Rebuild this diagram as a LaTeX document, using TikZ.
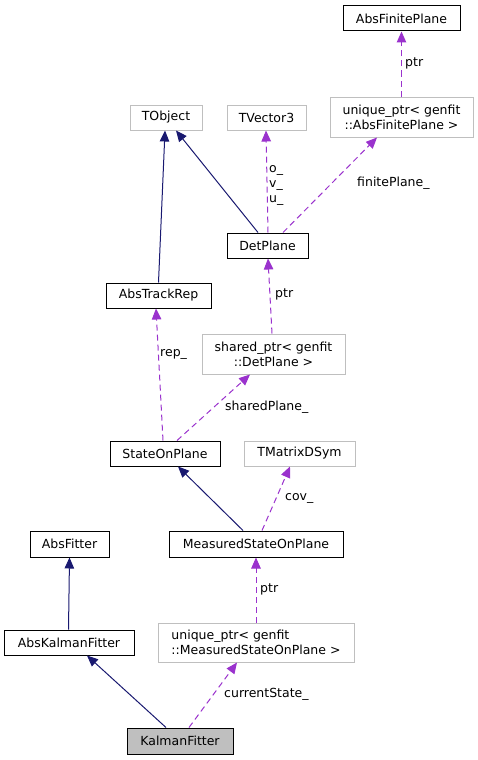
\documentclass[tikz,border=0pt]{standalone}
\usepackage{fontspec}
\setmainfont{DejaVu Sans}
\usetikzlibrary{arrows.meta,calc}
\definecolor{navyedge}{HTML}{191970}
\definecolor{depedge}{HTML}{9A32CD}
\definecolor{extgray}{HTML}{BFBFBF}
\begin{document}
\begin{tikzpicture}[x=1pt,y=-1pt,
  every node/.style={font=\fontsize{12.5}{15}\selectfont, inner sep=0pt},
  cls/.style={draw=black, line width=1pt, fill=white, align=center},
  ext/.style={draw=extgray, line width=1pt, fill=white, align=center},
  inh/.style={draw=navyedge, line width=1pt, -{Triangle[length=11pt,width=9.5pt]}},
  dep/.style={draw=depedge, line width=1pt, dash pattern=on 6pt off 4pt, -{Triangle[length=11pt,width=9.5pt]}},
  lbl/.style={anchor=west, align=left}]
\useasboundingbox (0,0) rectangle (477,760);
% nodes
\node[cls, minimum width=117pt, minimum height=25pt] (afp) at (401.5,18.5) {AbsFinitePlane};
\node[ext, minimum width=143pt, minimum height=40pt] (uafp) at (401.5,117) {unique\_ptr< genfit\\::AbsFinitePlane >};
\node[ext, minimum width=72pt, minimum height=25pt] (tobj) at (166,117.5) {TObject};
\node[ext, minimum width=79pt, minimum height=25pt] (tv) at (266.5,117.5) {TVector3};
\node[cls, minimum width=81pt, minimum height=25pt] (dp) at (267.5,245.5) {DetPlane};
\node[cls, minimum width=105pt, minimum height=25pt] (atr) at (158.5,295.5) {AbsTrackRep};
\node[ext, minimum width=143pt, minimum height=40pt] (sdp) at (273.5,354) {shared\_ptr< genfit\\::DetPlane >};
\node[cls, minimum width=110pt, minimum height=25pt] (sop) at (165,453.5) {StateOnPlane};
\node[ext, minimum width=111pt, minimum height=25pt] (tmd) at (299.5,453.5) {TMatrixDSym};
\node[cls, minimum width=174pt, minimum height=26pt] (msop) at (256,544) {MeasuredStateOnPlane};
\node[cls, minimum width=79pt, minimum height=26pt] (af) at (69.5,544) {AbsFitter};
\node[cls, minimum width=130pt, minimum height=25pt] (akf) at (69,642.5) {AbsKalmanFitter};
\node[ext, minimum width=196pt, minimum height=39pt, align=left] (umsop) at (256,642.5) {unique\_ptr< genfit\\::MeasuredStateOnPlane >};
\node[cls, fill=extgray, minimum width=106pt, minimum height=26pt] (kf) at (180,741) {KalmanFitter};
% edges
\draw[dep] (uafp.north) -- (afp.south);
\draw[inh] ([xshift=-9.5pt]dp.north) -- ([xshift=10pt]tobj.south);
\draw[inh] (atr.north) -- ([xshift=-1pt]tobj.south);
\draw[dep] ([xshift=0.5pt]dp.north) -- ([xshift=-0.5pt]tv.south);
\draw[dep] ([xshift=15.5pt]dp.north) -- ([xshift=-24.5pt]uafp.south);
\draw[dep] ([xshift=-1.5pt]sdp.north) -- ([xshift=0.5pt]dp.south);
\draw[dep] ([xshift=-2pt]sop.north) -- ([xshift=-2.5pt]atr.south);
\draw[dep] ([xshift=12pt]sop.north) -- ([xshift=-23.5pt]sdp.south);
\draw[inh] ([xshift=-13pt]msop.north) -- ([xshift=13pt]sop.south);
\draw[dep] ([xshift=6pt]msop.north) -- ([xshift=-9.5pt]tmd.south);
\draw[inh] ([xshift=-0.5pt]akf.north) -- (af.south);
\draw[dep] (umsop.north) -- (msop.south);
\draw[inh] ([xshift=-14pt]kf.north) -- ([xshift=18pt]akf.south);
\draw[dep] ([xshift=9pt]kf.north) -- ([xshift=-19pt]umsop.south);
% edge labels
\node[lbl] (l1) at (405,63) {ptr};
\node[lbl] (l2) at (269,185) {o\_\\v\_\\u\_};
\node[lbl] (l3) at (357,183) {finitePlane\_};
\node[lbl] (l4) at (275,294) {ptr};
\node[lbl] (l5) at (160,354) {rep\_};
\node[lbl] (l6) at (225,407) {sharedPlane\_};
\node[lbl] (l7) at (285,498) {cov\_};
\node[lbl] (l8) at (260,589) {ptr};
\node[lbl] (l9) at (224,694) {currentState\_};
\end{tikzpicture}
\end{document}
